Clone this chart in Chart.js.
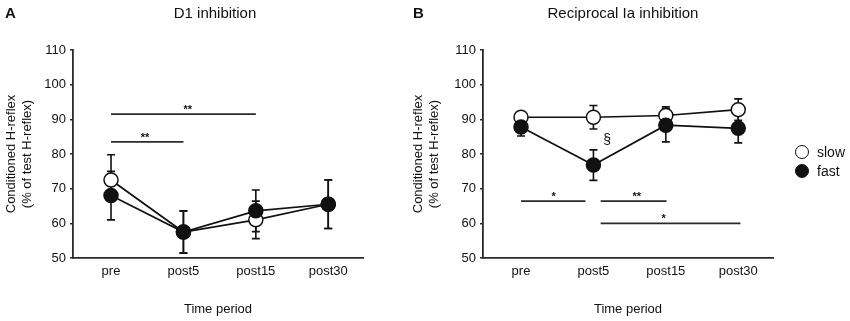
<!DOCTYPE html>
<html>
<head>
<meta charset="utf-8">
<script src="https://cdn.jsdelivr.net/npm/chart.js@4.4.1/dist/chart.umd.min.js"></script>
<style>
  body { margin: 0; background: #fff; }
  #wrap { position: relative; width: 850px; height: 321px; overflow: hidden; font-family: Arial, "Liberation Sans", sans-serif; color: #111; }
  .box { position: absolute; top: 0; }
  .txt { position: absolute; white-space: nowrap; line-height: 1; }
  .panel { font-weight: bold; font-size: 15px; }
  .title { font-size: 15px; transform: translateX(-50%); }
  .dot { position: absolute; width: 12px; height: 12px; border-radius: 50%; border: 1.5px solid #111; }
</style>
</head>
<body>
<div id="wrap">
  <div class="box" style="left:0;width:400px;height:321px"><canvas id="chartA" width="400" height="321"></canvas></div>
  <div class="box" style="left:400px;width:450px;height:321px"><canvas id="chartB" width="450" height="321"></canvas></div>

  <div class="txt panel" style="left:5px;top:5px">A</div>
  <div class="txt title" style="left:215px;top:5px">D1 inhibition</div>
  <div class="txt panel" style="left:413px;top:5px">B</div>
  <div class="txt title" style="left:623px;top:5px">Reciprocal Ia inhibition</div>

  <div class="dot" style="left:795px;top:145px;background:#fff"></div>
  <div class="txt" style="left:817px;top:145px;font-size:14px">slow</div>
  <div class="dot" style="left:795px;top:164px;background:#111"></div>
  <div class="txt" style="left:817px;top:164px;font-size:14px">fast</div>
</div>

<script>
// time points
const timeLabels = ['pre', 'post5', 'post15', 'post30'];

// D1 inhibition (panel A)
const d1Slow = [72.5, 57.5, 61.0, 65.5];
const d1SlowUp = [7.3, 6.1, 5.4, 7.0];
const d1SlowDown = [0, 6.1, 5.4, 7.0];
const d1Fast = [68.0, 57.5, 63.6, 65.5];
const d1FastUp = [7.0, 6.1, 6.0, 7.0];
const d1FastDown = [7.0, 6.1, 6.0, 7.0];

// Reciprocal Ia inhibition (panel B)
const iaSlow = [90.6, 90.6, 91.1, 92.8];
const iaSlowErr = [1.6, 3.4, 2.5, 3.1];
const iaFast = [87.8, 76.8, 88.3, 87.4];
const iaFastErr = [2.6, 4.4, 4.8, 4.2];

// significance bars: from / to (time index), level, label, label position
const d1Sig = [
  { from: 0, to: 2, y: 91.5, text: '**', at: 1.06 },
  { from: 0, to: 1, y: 83.5, text: '**', at: 0.47 }
];
const iaSig = [
  { from: 0, to: 0.89, y: 66.4, text: '*', at: 0.45 },
  { from: 1.1, to: 2.01, y: 66.4, text: '**', at: 1.6 },
  { from: 1.1, to: 3.03, y: 60, text: '*', at: 1.97 }
];
const iaMarks = [{ x: 1.19, y: 84, text: '§' }];

const INK = '#111';
Chart.defaults.font.family = 'Arial, "Liberation Sans", sans-serif';
Chart.defaults.color = '#111';

function toPoints(vals) {
  return vals.map((v, i) => ({ x: i, y: v }));
}

function series(vals, up, down, filled, order) {
  return {
    data: toPoints(vals),
    errUp: up,
    errDown: down,
    order,
    borderColor: INK,
    borderWidth: 1.7,
    pointRadius: 7,
    pointHoverRadius: 7,
    pointBorderWidth: 1.5,
    pointBorderColor: INK,
    pointBackgroundColor: filled ? INK : '#fff',
    tension: 0
  };
}

const errorBars = {
  id: 'errorBars',
  beforeDatasetsDraw(chart) {
    const { ctx, scales: { x, y } } = chart;
    ctx.save();
    ctx.strokeStyle = INK;
    ctx.lineWidth = 1.6;
    chart.data.datasets.forEach(ds => {
      ds.data.forEach((p, i) => {
        const px = x.getPixelForValue(p.x);
        const top = y.getPixelForValue(p.y + ds.errUp[i]);
        const bot = y.getPixelForValue(p.y - ds.errDown[i]);
        ctx.beginPath();
        ctx.moveTo(px, top); ctx.lineTo(px, bot);
        if (ds.errUp[i] > 0) { ctx.moveTo(px - 4, top); ctx.lineTo(px + 4, top); }
        if (ds.errDown[i] > 0) { ctx.moveTo(px - 4, bot); ctx.lineTo(px + 4, bot); }
        ctx.stroke();
      });
    });
    ctx.restore();
  }
};

function sigPlugin(bars, marks) {
  return {
    id: 'sig',
    afterDatasetsDraw(chart) {
      const { ctx, scales: { x, y } } = chart;
      ctx.save();
      ctx.strokeStyle = '#2a2a2a';
      ctx.fillStyle = '#111';
      ctx.lineWidth = 1.6;
      ctx.textAlign = 'center';
      bars.forEach(b => {
        const py = y.getPixelForValue(b.y);
        ctx.beginPath();
        ctx.moveTo(x.getPixelForValue(b.from), py);
        ctx.lineTo(x.getPixelForValue(b.to), py);
        ctx.stroke();
        ctx.font = 'bold 11px Arial, "Liberation Sans", sans-serif';
        ctx.textBaseline = 'alphabetic';
        ctx.fillText(b.text, x.getPixelForValue(b.at), py - 1);
      });
      marks.forEach(m => {
        ctx.font = '14px Arial, "Liberation Sans", sans-serif';
        ctx.textBaseline = 'middle';
        ctx.fillText(m.text, x.getPixelForValue(m.x), y.getPixelForValue(m.y));
      });
      ctx.restore();
    }
  };
}

function makeChart(id, datasets, axisLeft, padRight, titlePad, bars, marks) {
  return new Chart(document.getElementById(id), {
    type: 'line',
    data: { datasets },
    options: {
      responsive: false,
      animation: false,
      layout: { padding: { left: 0, top: 50, right: padRight, bottom: 0 } },
      plugins: { legend: { display: false }, tooltip: { enabled: false } },
      scales: {
        x: {
          type: 'linear',
          min: -0.525,
          max: 3.48,
          afterBuildTicks: s => { s.ticks = timeLabels.map((_, i) => ({ value: i })); },
          afterFit: s => { s.height = 63; },
          ticks: {
            callback: v => timeLabels[v],
            autoSkip: false,
            maxRotation: 0,
            padding: 6,
            font: { size: 13 },
            color: '#111'
          },
          grid: { display: false, drawTicks: false },
          border: { display: true, color: '#2a2a2a', width: 1.8 },
          title: {
            display: true,
            text: 'Time period',
            font: { size: 13 },
            color: '#111',
            padding: { top: 0, bottom: 4 }
          }
        },
        y: {
          min: 50,
          max: 110,
          afterFit: s => { s.width = axisLeft; },
          ticks: { stepSize: 10, padding: 4, font: { size: 13 }, color: '#111' },
          grid: { drawOnChartArea: false, drawTicks: true, tickLength: 3, color: '#2a2a2a', lineWidth: 1.5 },
          border: { display: true, color: '#2a2a2a', width: 1.8 },
          title: {
            display: true,
            text: ['Conditioned H-reflex', '(% of test H-reflex)'],
            font: { size: 13 },
            color: '#111',
            padding: { top: titlePad, bottom: 0 }
          }
        }
      }
    },
    plugins: [errorBars, sigPlugin(bars, marks)]
  });
}

makeChart('chartA', [
  series(d1Slow, d1SlowUp, d1SlowDown, false, 1),
  series(d1Fast, d1FastUp, d1FastDown, true, 0)
], 73, 37, 4, d1Sig, []);

makeChart('chartB', [
  series(iaSlow, iaSlowErr, iaSlowErr, false, 1),
  series(iaFast, iaFastErr, iaFastErr, true, 0)
], 83, 77, 11, iaSig, iaMarks);
</script>
</body>
</html>
